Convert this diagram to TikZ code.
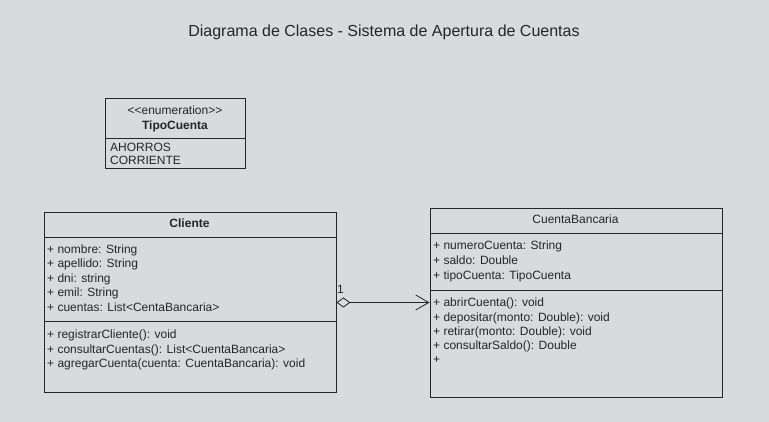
\documentclass[tikz,border=0pt]{standalone}
\usepackage{fontspec}
\setmainfont{Liberation Sans}
\usepackage{tikz}
\usetikzlibrary{arrows.meta}
\definecolor{bgcol}{HTML}{D9DADC}
\definecolor{ink}{HTML}{262626}
\tikzstyle{part}=[rectangle, draw=ink, line width=.9pt, inner sep=0pt, anchor=north west]
\tikzstyle{member}=[anchor=base west, inner sep=0pt, text=ink, font=\fontsize{12}{14}\selectfont]
\tikzstyle{head}=[anchor=base, inner sep=0pt, text=ink, font=\fontsize{12}{14}\selectfont]
\tikzstyle{assoc}=[draw=ink, line width=.8pt, {Diamond[open, length=14pt, width=10pt]}-{Straight Barb[length=13pt, width=15pt]}]

\begin{document}
\begin{tikzpicture}[x=1pt, y=-1pt]
    \useasboundingbox[fill=bgcol] (0,0) rectangle (769,422);
    \node[head, font=\fontsize{16}{18}\selectfont] (title) at (384,36.7) {Diagrama de Clases - Sistema de Apertura de Cuentas};

    % enumeracion
    \node[part, minimum width=140, minimum height=40] (enHead) at (105,98) {};
    \node[part, minimum width=140, minimum height=30] (enVals) at (105,138) {};
    \node[head] (enStereo) at (175,115) {<\kern0pt<enumeration>\kern0pt>};
    \node[head, font=\fontsize{12}{14}\selectfont\bfseries] (enName) at (175,130) {TipoCuenta};
    \node[member] (enV1) at (110,151.5) {AHORROS};
    \node[member] (enV2) at (110,164.5) {CORRIENTE};

    % Cliente
    \node[part, minimum width=292, minimum height=25] (cliHead) at (43.5,212) {};
    \node[part, minimum width=292, minimum height=84] (cliAttr) at (43.5,237) {};
    \node[part, minimum width=292, minimum height=71] (cliOps) at (43.5,321) {};
    \node[head, font=\fontsize{12}{14}\selectfont\bfseries] (cliName) at (189.5,227.5) {Cliente};
    \foreach \txt [count=\i] in {+ nombre: String, + apellido: String, + dni: string,
      + emil: String, + cuentas: List<CentaBancaria>}
    \node[member] (cliA\i) at (47,{253.5+14.4*(\i-1)}) {\txt};
    \foreach \txt [count=\i] in {+ registrarCliente(): void,
      + consultarCuentas(): List<CuentaBancaria>,
      + agregarCuenta(cuenta: CuentaBancaria): void}
    \node[member] (cliM\i) at (47,{338.5+14.5*(\i-1)}) {\txt};

    % CuentaBancaria
    \node[part, minimum width=292, minimum height=25] (cbHead) at (429.5,208) {};
    \node[part, minimum width=292, minimum height=57] (cbAttr) at (429.5,233) {};
    \node[part, minimum width=292, minimum height=107] (cbOps) at (429.5,290) {};
    \node[head] (cbName) at (575.5,223.3) {CuentaBancaria};
    \foreach \txt [count=\i] in {+ numeroCuenta: String, + saldo: Double,
      + tipoCuenta: TipoCuenta}
    \node[member] (cbA\i) at (433,{250+14.7*(\i-1)}) {\txt};
    \foreach \txt [count=\i] in {+ abrirCuenta(): void, + depositar(monto: Double): void,
      + retirar(monto: Double): void, + consultarSaldo(): Double, +}
    \node[member] (cbM\i) at (433,{307+14.1*(\i-1)}) {\txt};

    % agregacion
    \draw[assoc] (cliAttr.east |- 0,302.5) -- (cbOps.west |- 0,302.5);
    \node[head] (mult) at (340.5,294) {1};
\end{tikzpicture}
\end{document}
